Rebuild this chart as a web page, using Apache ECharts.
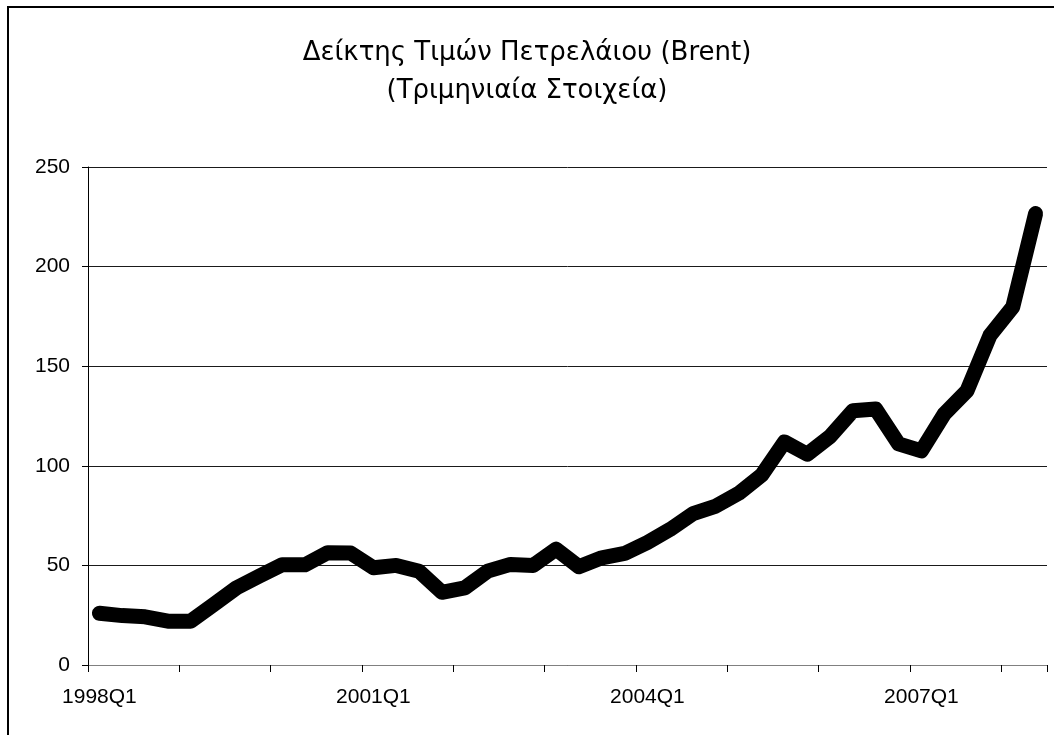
<!DOCTYPE html>
<html>
<head>
<meta charset="utf-8">
<title>Δείκτης Τιμών Πετρελαίου (Brent)</title>
<script src="https://cdn.jsdelivr.net/npm/echarts@6/dist/echarts.min.js"></script>
<style>
  html, body { margin: 0; padding: 0; background: #ffffff; }
  #chart { width: 1054px; height: 735px; }
</style>
</head>
<body>
<div id="chart"></div>
<script>
// Quarterly periods, 1998Q1 to 2008Q2
const quarters = [];
for (let y = 1998; y <= 2008; y++) {
  for (let q = 1; q <= 4; q++) {
    if (y === 2008 && q > 2) break;
    quarters.push(y + 'Q' + q);
  }
}

// Brent oil price index, quarterly
const brentIndex = [
  26.0, 24.8, 24.2, 22.0, 22.0, 30.3, 38.7, 44.6, 50.3, 50.3,
  56.4, 56.2, 48.8, 50.0, 47.1, 36.5, 38.7, 47.1, 50.5, 50.0,
  58.2, 49.3, 53.8, 56.0, 61.5, 68.1, 76.0, 79.8, 86.2, 95.3,
  112.0, 105.8, 114.7, 127.6, 128.5, 111.0, 107.5, 126.0, 137.7, 165.4,
  179.7, 226.6
];

const titleLines = ['Δείκτης Τιμών Πετρελάιου (Brent)', '(Τριμηνιαία Στοιχεία)'];
const yTicks = { min: 0, max: 250, step: 50 };

const titleStyle = {
  fontFamily: 'DejaVu Sans',
  fontSize: 26,
  fontWeight: 'normal',
  color: '#000000'
};
const labelFont = 'Liberation Sans, Arial, sans-serif';

const chart = echarts.init(document.getElementById('chart'), null, { renderer: 'canvas' });

chart.setOption({
  animation: false,
  backgroundColor: '#ffffff',
  title: [
    { text: titleLines[0], left: 'center', top: 40, padding: 0, textStyle: titleStyle },
    { text: titleLines[1], left: 'center', top: 78, padding: 0, textStyle: titleStyle }
  ],
  graphic: [{
    type: 'rect',
    silent: true,
    shape: { x: 8, y: 7, width: 2000, height: 2000 },
    style: { fill: 'none', stroke: '#000000', lineWidth: 2 }
  }],
  grid: { left: 88, right: 7, top: 167, bottom: 70, containLabel: false },
  xAxis: {
    type: 'category',
    data: quarters,
    boundaryGap: true,
    axisLine: { show: true, lineStyle: { color: '#808080', width: 1 } },
    axisTick: {
      show: true,
      interval: 3,
      length: 7,
      lineStyle: { color: '#000000', width: 1 }
    },
    axisLabel: {
      interval: 11,
      margin: 22,
      fontFamily: labelFont,
      fontSize: 21,
      color: '#000000'
    },
    splitLine: { show: false }
  },
  yAxis: {
    type: 'value',
    min: yTicks.min,
    max: yTicks.max,
    interval: yTicks.step,
    axisLine: { show: true, lineStyle: { color: '#000000', width: 1 } },
    axisTick: { show: true, length: 6, lineStyle: { color: '#000000', width: 1 } },
    axisLabel: {
      margin: 18,
      fontFamily: labelFont,
      fontSize: 21,
      color: '#000000'
    },
    splitLine: { show: true, lineStyle: { color: '#1a1a1a', width: 1 } }
  },
  series: [{
    type: 'line',
    data: brentIndex,
    showSymbol: false,
    symbol: 'none',
    lineStyle: { color: '#000000', width: 15, cap: 'round', join: 'round' },
    z: 3
  }]
});
</script>
</body>
</html>
